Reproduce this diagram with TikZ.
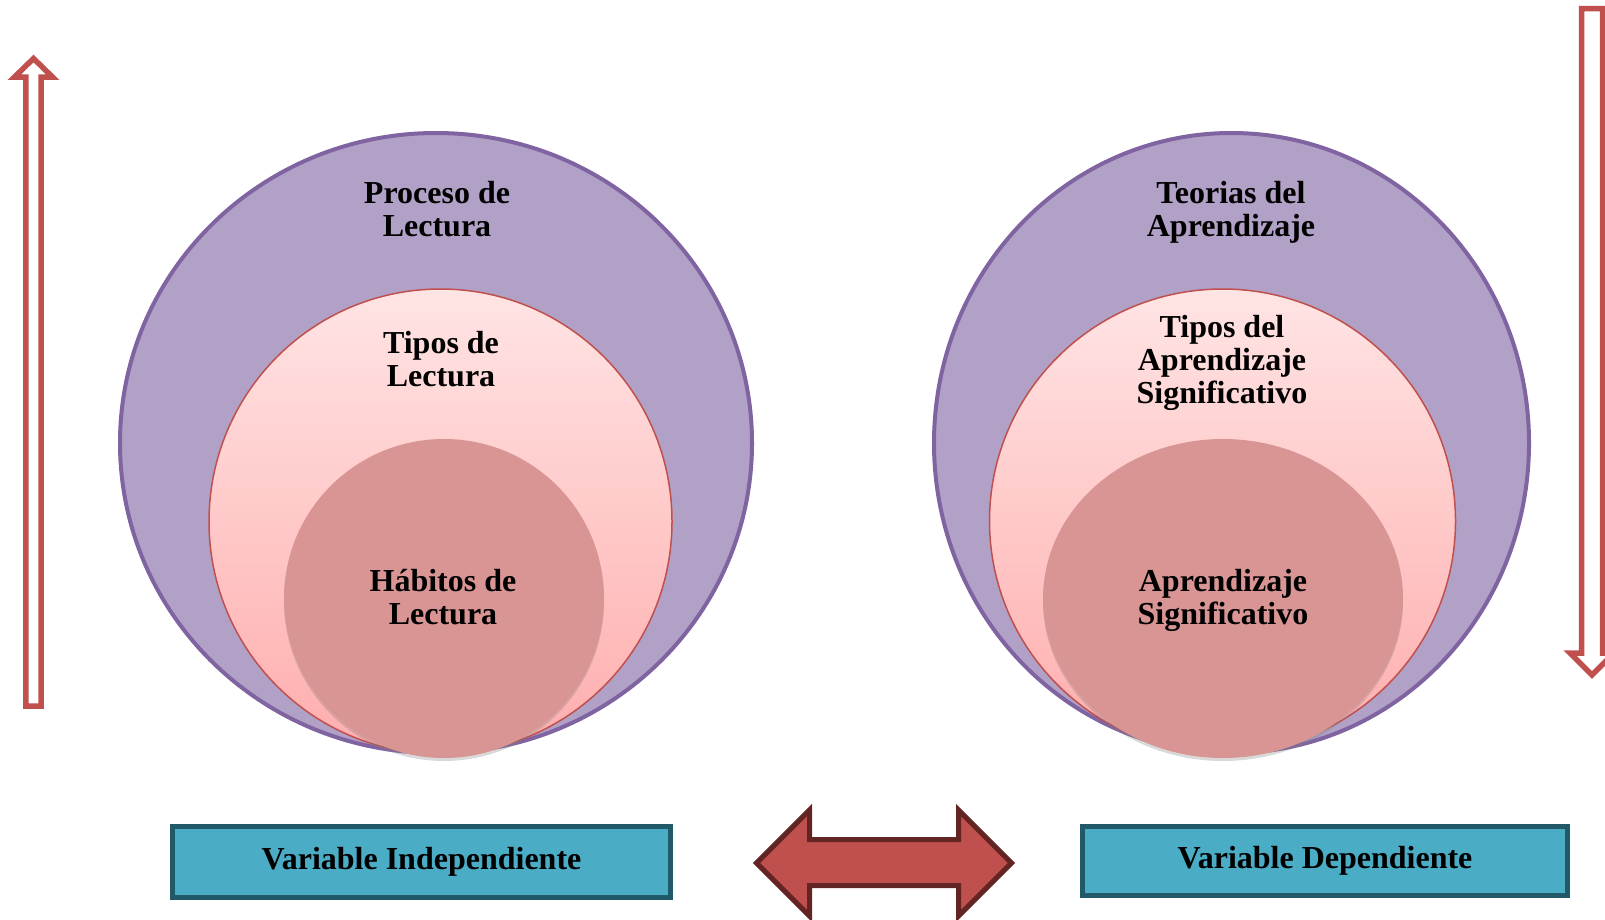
\documentclass[tikz,border=0pt]{standalone}
\usepackage{fontspec}
\setmainfont{Liberation Serif}
\usetikzlibrary{shapes.geometric,shadows}
\definecolor{violetline}{HTML}{8064A2}
\definecolor{violetfill}{HTML}{B2A1C7}
\definecolor{redline}{HTML}{C0504D}
\definecolor{pinktop}{HTML}{FFE4E4}
\definecolor{pinkbot}{HTML}{FFADAD}
\definecolor{rosefill}{HTML}{D99594}
\definecolor{darkred}{HTML}{632523}
\definecolor{tealfill}{HTML}{4BACC6}
\definecolor{tealline}{HTML}{215968}
\begin{document}
\begin{tikzpicture}[x=1pt,y=-1pt,
  outerc/.style={ellipse, draw=violetline, fill=violetfill, line width=4pt, inner sep=0pt},
  midc/.style={ellipse, draw=redline, top color=pinktop, bottom color=pinkbot, line width=1.5pt, inner sep=0pt},
  innerc/.style={ellipse, fill=rosefill, inner sep=0pt,
     drop shadow={opacity=0.3, shadow xshift=0pt, shadow yshift=-3pt}},
  lbl/.style={align=center, font=\fontsize{32}{33}\selectfont\bfseries, inner sep=0pt},
  varbox/.style={rectangle, draw=tealline, fill=tealfill, line width=5pt, inner sep=0pt,
     font=\fontsize{32}{33}\selectfont\bfseries},
  hollowarrow/.style={draw=redline, fill=white, line width=5.5pt, line join=miter},
  bigarrow/.style={draw=darkred, fill=redline, line width=5pt, line join=miter}
]
\useasboundingbox (0,0) rectangle (1605,919);

% side arrows
\draw[hollowarrow] (33.5,58.5) -- (52.5,77) -- (41.2,77) -- (41.2,706) -- (25.8,706) -- (25.8,77) -- (14.5,77) -- cycle;
\draw[hollowarrow] (1581.5,8.5) -- (1602.5,8.5) -- (1602.5,653) -- (1614,653) -- (1592,675) -- (1570,653) -- (1581.5,653) -- cycle;

% left set
\node[outerc, minimum width=632pt, minimum height=620pt] (bigL) at (436,443) {};
\node[midc, minimum width=463pt, minimum height=465pt] (midL) at (440.5,521.5) {};
\node[innerc, minimum width=320pt, minimum height=319pt] (inL) at (444,598.5) {};
\node[lbl] (tProceso) at (437,209) {Proceso de\\Lectura};
\node[lbl] (tTiposL) at (441,359) {Tipos de\\Lectura};
\node[lbl] (tHabitos) at (443,597) {Hábitos de\\Lectura};

% right set
\node[outerc, minimum width=595pt, minimum height=620pt] (bigR) at (1231.5,443) {};
\node[midc, minimum width=466pt, minimum height=464pt] (midR) at (1222.5,521) {};
\node[innerc, minimum width=360pt, minimum height=319pt] (inR) at (1223,598.5) {};
\node[lbl] (tTeorias) at (1231,212) {Teorias del\\Aprendizaje};
\node[lbl] (tTiposA) at (1222,363) {Tipos del\\Aprendizaje\\Significativo};
\node[lbl] (tAprend) at (1223,600) {Aprendizaje\\Significativo};

% boxes
\node[varbox, minimum width=498pt, minimum height=71pt] (vInd) at (421.5,862) {Variable Independiente};
\node[varbox, minimum width=485pt, minimum height=69.5pt] (vDep) at (1325,861) {Variable Dependiente};

% double arrow
\draw[bigarrow] (756.5,863) -- (809.5,810) -- (809.5,839.5) -- (958.5,839.5) -- (958.5,810)
  -- (1011.5,863) -- (958.5,916) -- (958.5,885.5) -- (809.5,885.5) -- (809.5,916) -- cycle;
\end{tikzpicture}
\end{document}
